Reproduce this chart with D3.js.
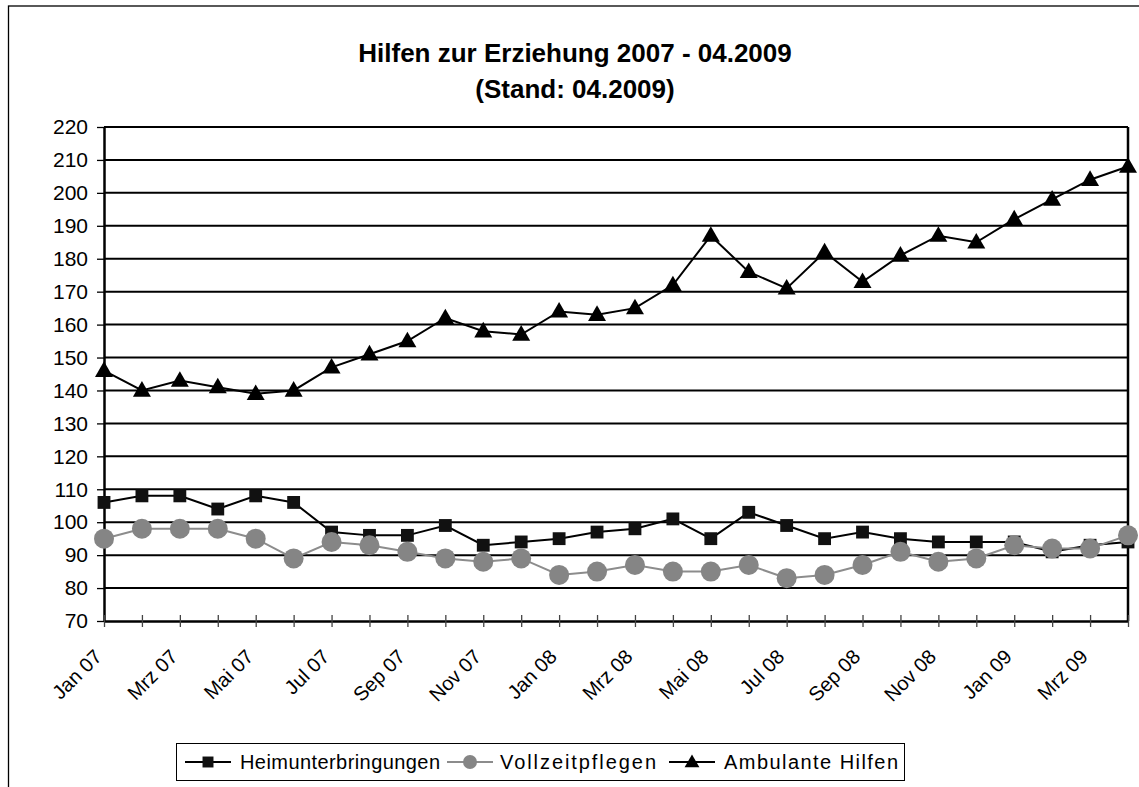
<!DOCTYPE html>
<html>
<head>
<meta charset="utf-8">
<script src="https://cdn.jsdelivr.net/npm/d3@7"></script>
<style>
  body { margin: 0; background: #fff; }
  svg text { font-family: "Liberation Sans", Arial, sans-serif; fill: #000; }
</style>
</head>
<body>
<svg id="chart" width="1139" height="787"></svg>
<script>
var months = ['Jan 07', 'Feb 07', 'Mrz 07', 'Apr 07', 'Mai 07', 'Jun 07', 'Jul 07', 'Aug 07', 'Sep 07', 'Okt 07', 'Nov 07', 'Dez 07',
  'Jan 08', 'Feb 08', 'Mrz 08', 'Apr 08', 'Mai 08', 'Jun 08', 'Jul 08', 'Aug 08', 'Sep 08', 'Okt 08', 'Nov 08', 'Dez 08',
  'Jan 09', 'Feb 09', 'Mrz 09', 'Apr 09']
var heim = [106, 108, 108, 104, 108, 106, 97, 96, 96, 99, 93, 94,
  95, 97, 98, 101, 95, 103, 99, 95, 97, 95, 94, 94,
  94, 91, 93, 94]
var voll = [95, 98, 98, 98, 95, 89, 94, 93, 91, 89, 88, 89,
  84, 85, 87, 85, 85, 87, 83, 84, 87, 91, 88, 89,
  93, 92, 92, 96]
var amb = [146, 140, 143, 141, 139, 140, 147, 151, 155, 162, 158, 157,
  164, 163, 165, 172, 187, 176, 171, 182, 173, 181, 187, 185,
  192, 198, 204, 208]
var yTicks = [70, 80, 90, 100, 110, 120, 130, 140, 150, 160, 170, 180, 190, 200, 210, 220]
var seriesNames = ['Heimunterbringungen', 'Vollzeitpflegen', 'Ambulante Hilfen']
var titleLines = ['Hilfen zur Erziehung 2007 - 04.2009', '(Stand: 04.2009)']

var svg = d3.select('#chart')
var pLeft = 104, pRight = 1128, pTop = 127, pBottom = 621

var x = d3.scalePoint().domain(months).range([pLeft, pRight])
var y = d3.scaleLinear().domain([70, 220]).range([pBottom, pTop])

// outer chart frame (runs off the right/bottom of the picture)
svg.append('rect')
  .attr('x', 8.5).attr('y', 6)
  .attr('width', 1200).attr('height', 900)
  .attr('fill', 'none').attr('stroke', '#000').attr('stroke-width', 1.3)

// title
svg.append('g').selectAll('text')
  .data(titleLines)
  .enter().append('text')
  .attr('x', 575)
  .attr('y', function(d, i) { return 62 + i * 36 })
  .attr('text-anchor', 'middle')
  .style('font-size', '26px')
  .style('font-weight', 'bold')
  .text(function(d) { return d })

// gridlines
svg.append('g').selectAll('line')
  .data(yTicks.slice(1))
  .enter().append('line')
  .attr('x1', pLeft).attr('x2', pRight)
  .attr('y1', function(d) { return y(d) }).attr('y2', function(d) { return y(d) })
  .attr('stroke', '#000').attr('stroke-width', 2)

// right border of plot area
svg.append('line')
  .attr('x1', pRight).attr('x2', pRight).attr('y1', pTop).attr('y2', pBottom)
  .attr('stroke', '#000').attr('stroke-width', 2.5)

// y axis
var yAxis = svg.append('g')
  .attr('transform', 'translate(' + pLeft + ',0)')
  .call(d3.axisLeft(y).tickValues(yTicks).tickSize(7).tickSizeOuter(0).tickPadding(9))
yAxis.select('.domain').attr('stroke', '#000').attr('stroke-width', 2.5)
yAxis.selectAll('.tick line').attr('stroke', '#000').attr('stroke-width', 1.3)
yAxis.selectAll('.tick text').style('font-size', '21px').attr('fill', '#000').attr('font-family', null)

// x axis (ticks cross the axis line)
var xAxis = svg.append('g')
  .attr('transform', 'translate(0,' + pBottom + ')')
  .call(d3.axisBottom(x).tickSize(6).tickSizeOuter(0).tickFormat(''))
xAxis.select('.domain').attr('stroke', '#000').attr('stroke-width', 2.5)
xAxis.selectAll('.tick line').attr('y1', -6).attr('stroke', '#444').attr('stroke-width', 1.3)

svg.append('g').selectAll('text')
  .data(months.filter(function(d, i) { return i % 2 === 0 }))
  .enter().append('text')
  .attr('transform', function(d) { return 'translate(' + (x(d) - 1) + ',' + (pBottom + 37) + ') rotate(-45)' })
  .attr('text-anchor', 'end')
  .style('font-size', '20px')
  .text(function(d) { return d })

// series
var line = d3.line()
  .x(function(d, i) { return x(months[i]) })
  .y(function(d) { return y(d) })

var sqr = d3.symbol().type(d3.symbolSquare).size(165)
var tri = d3.symbol().type(d3.symbolTriangle).size(140)

svg.append('path').datum(heim)
  .attr('d', line).attr('fill', 'none').attr('stroke', '#000').attr('stroke-width', 2)
svg.append('g').selectAll('path')
  .data(heim).enter().append('path')
  .attr('d', sqr)
  .attr('transform', function(d, i) { return 'translate(' + x(months[i]) + ',' + y(d) + ')' })
  .attr('fill', '#111')

svg.append('path').datum(voll)
  .attr('d', line).attr('fill', 'none').attr('stroke', '#8c8c8c').attr('stroke-width', 2)
svg.append('g').selectAll('circle')
  .data(voll).enter().append('circle')
  .attr('cx', function(d, i) { return x(months[i]) })
  .attr('cy', function(d) { return y(d) })
  .attr('r', 10)
  .attr('fill', '#858585')

svg.append('path').datum(amb)
  .attr('d', line).attr('fill', 'none').attr('stroke', '#000').attr('stroke-width', 2)
svg.append('g').selectAll('path')
  .data(amb).enter().append('path')
  .attr('d', tri)
  .attr('transform', function(d, i) { return 'translate(' + x(months[i]) + ',' + (y(d) + 1) + ')' })
  .attr('fill', '#000')

// legend
var legend = svg.append('g')
legend.append('rect')
  .attr('x', 176.5).attr('y', 743.5).attr('width', 728).attr('height', 37)
  .attr('fill', '#fff').attr('stroke', '#000').attr('stroke-width', 1)

var legendX = [185, 447, 669]
var textX = [240, 500, 724]
var textW = [200, 156, 174]
var ly = 762
var item = legend.selectAll('g.item')
  .data(seriesNames)
  .enter().append('g')
  .attr('class', 'item')
item.append('line')
  .attr('x1', function(d, i) { return legendX[i] })
  .attr('x2', function(d, i) { return legendX[i] + 46 })
  .attr('y1', ly).attr('y2', ly)
  .attr('stroke', function(d, i) { return i === 1 ? '#8c8c8c' : '#000' })
  .attr('stroke-width', 2)
item.each(function(d, i) {
  var g = d3.select(this)
  var cx = legendX[i] + 23
  if (i === 0) g.append('path').attr('d', d3.symbol().type(d3.symbolSquare).size(120)).attr('transform', 'translate(' + cx + ',' + ly + ')').attr('fill', '#111')
  if (i === 1) g.append('circle').attr('cx', cx).attr('cy', ly).attr('r', 7).attr('fill', '#858585')
  if (i === 2) g.append('path').attr('d', d3.symbol().type(d3.symbolTriangle).size(95)).attr('transform', 'translate(' + cx + ',' + (ly + 1) + ')').attr('fill', '#000')
})
item.append('text')
  .attr('x', function(d, i) { return textX[i] })
  .attr('y', ly + 7)
  .attr('textLength', function(d, i) { return textW[i] })
  .attr('lengthAdjust', 'spacing')
  .style('font-size', '20px')
  .text(function(d) { return d })
</script>
</body>
</html>
